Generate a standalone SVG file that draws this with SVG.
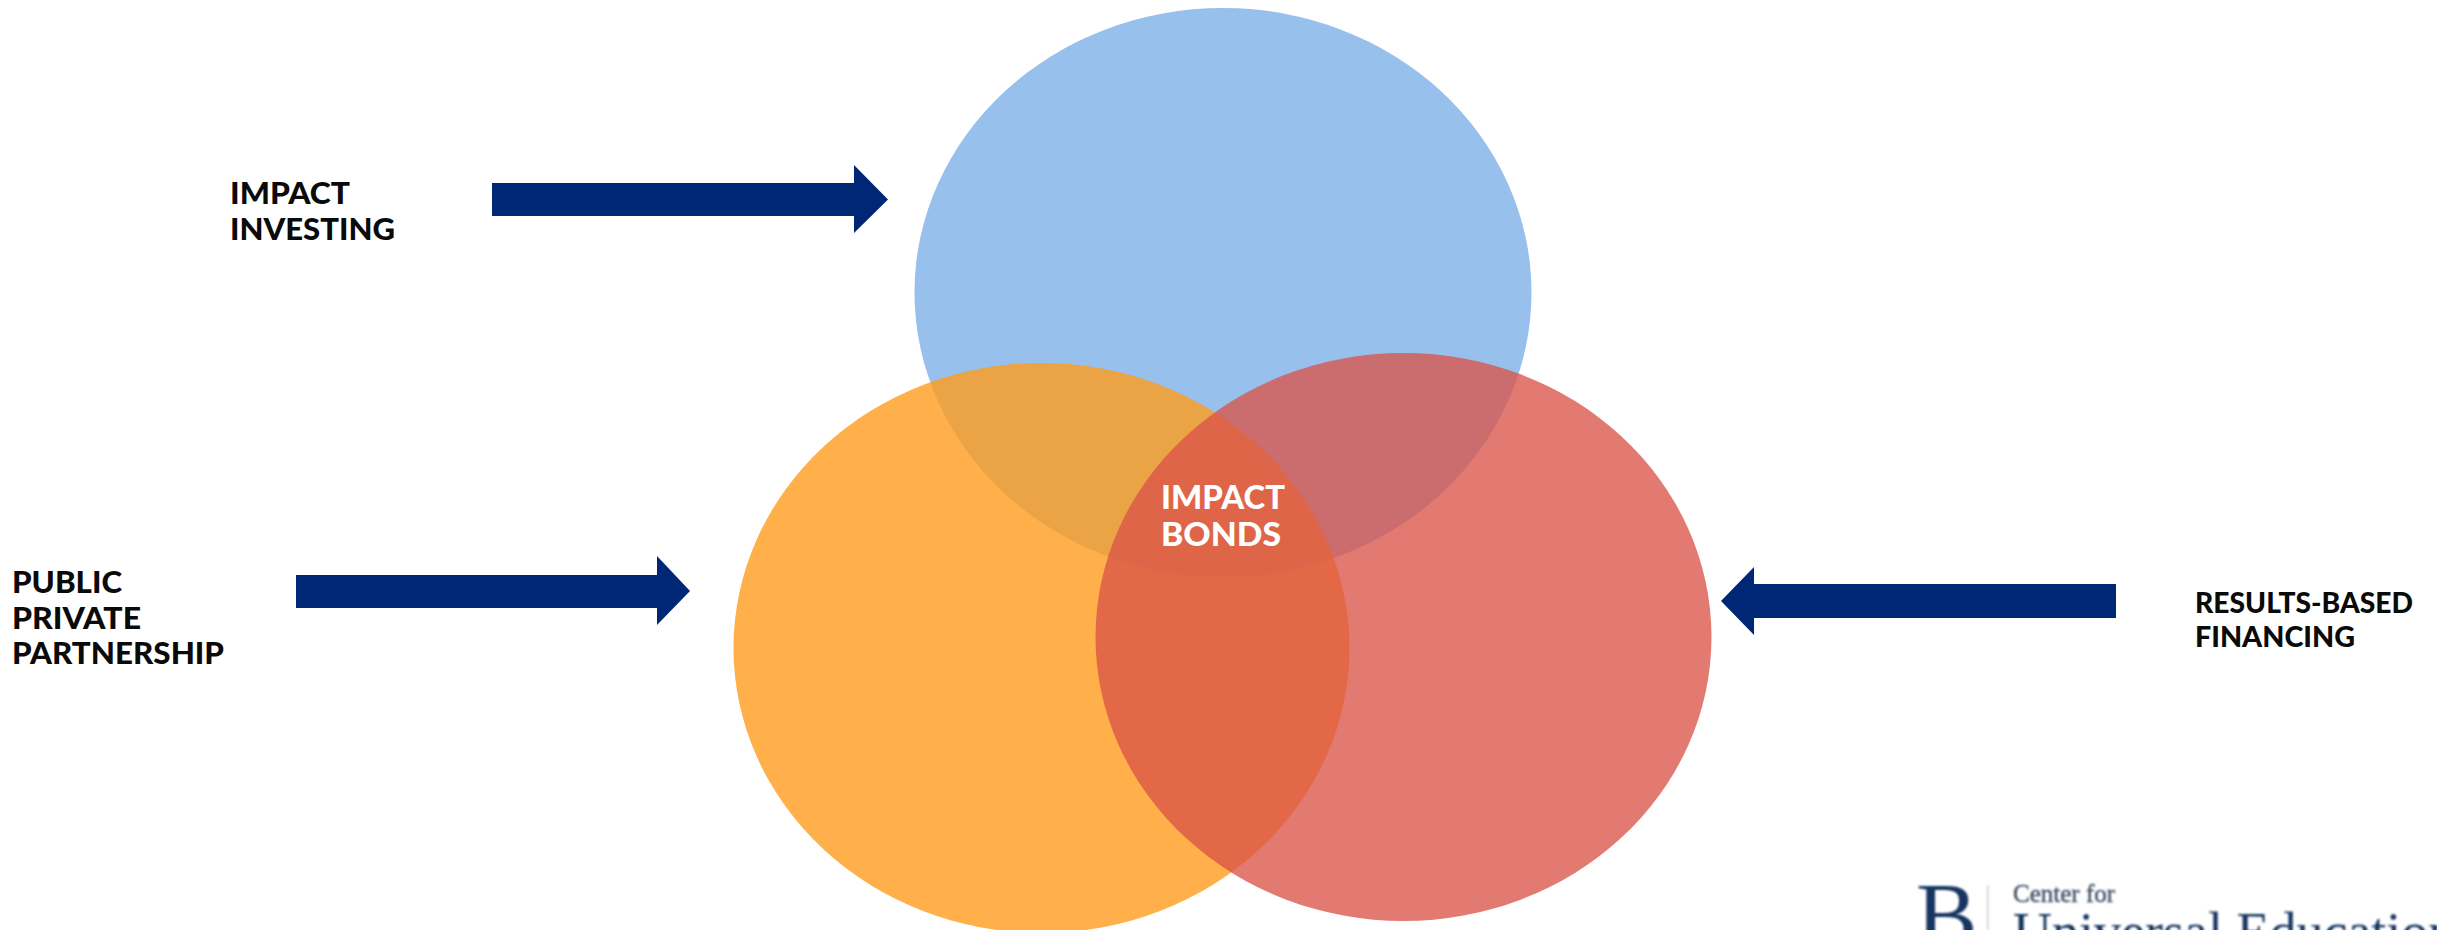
<svg xmlns="http://www.w3.org/2000/svg" width="2437" height="930" viewBox="0 0 2437 930">
<style>
.lbl{font-family:"Lato","Liberation Sans",sans-serif;font-weight:900;font-size:30px;fill:#0a0a0a}
.rb{font-size:28px}
.w{fill:#fff;font-size:32px}
.arr{fill:#002776}
.o{fill-opacity:.8}
.r{fill-opacity:.77}
</style>
<defs><filter id="soft" x="-5%" y="-5%" width="110%" height="110%"><feGaussianBlur stdDeviation="0.8"/></filter></defs>
<rect width="2437" height="930" fill="#fff"/>
<g id="node-blue"><ellipse cx="1223" cy="292.500" rx="308.500" ry="284.500" fill="#97c0ec"/></g>
<g id="node-orange"><ellipse class="o" cx="1041.500" cy="648" rx="308" ry="285" fill="#ff9c1d"/></g>
<g id="node-red"><ellipse class="r" cx="1403.500" cy="637" rx="308" ry="284" fill="#db5248"/></g>
<g id="connectors">
<polygon class="arr" points="492,183 854,183 854,165 888,199.500 854,233 854,216 492,216"/>
<polygon class="arr" points="296,575 657,575 657,556 690,591 657,625 657,608 296,608"/>
<polygon class="arr" points="2116,584 1754,584 1754,567 1721,601 1754,635 1754,618 2116,618"/>
</g>
<g id="label-investing"><text class="lbl" x="230" y="204" textLength="120" lengthAdjust="spacingAndGlyphs">IMPACT</text><text class="lbl" x="230" y="240" textLength="165" lengthAdjust="spacingAndGlyphs">INVESTING</text></g>
<g id="label-ppp"><text class="lbl" x="12" y="593" textLength="110" lengthAdjust="spacingAndGlyphs">PUBLIC</text><text class="lbl" x="12" y="629" textLength="129" lengthAdjust="spacingAndGlyphs">PRIVATE</text><text class="lbl" x="12" y="664" textLength="212" lengthAdjust="spacingAndGlyphs">PARTNERSHIP</text></g>
<g id="label-rbf"><text class="lbl rb" x="2195" y="613" textLength="218" lengthAdjust="spacingAndGlyphs">RESULTS-BASED</text><text class="lbl rb" x="2195" y="647" textLength="160" lengthAdjust="spacingAndGlyphs">FINANCING</text></g>
<g id="label-bonds"><text class="lbl w" x="1161" y="509" textLength="124" lengthAdjust="spacingAndGlyphs">IMPACT</text><text class="lbl w" x="1161" y="546" textLength="120" lengthAdjust="spacingAndGlyphs">BONDS</text></g>
<g id="logo" filter="url(#soft)">
<text x="1916" y="946" font-family="Liberation Serif,serif" font-size="92" fill="#16365f">B</text>
<rect x="1987" y="885" width="1.500" height="45" fill="#c9cdd3"/>
<text x="2013" y="902" font-family="Liberation Serif,serif" font-size="25" fill="#3a4d63" stroke="#3a4d63" stroke-width=".4">Center for</text>
<text x="2013" y="950" font-family="Liberation Serif,serif" font-size="54" fill="#16365f">Universal Education</text>
</g>
</svg>
